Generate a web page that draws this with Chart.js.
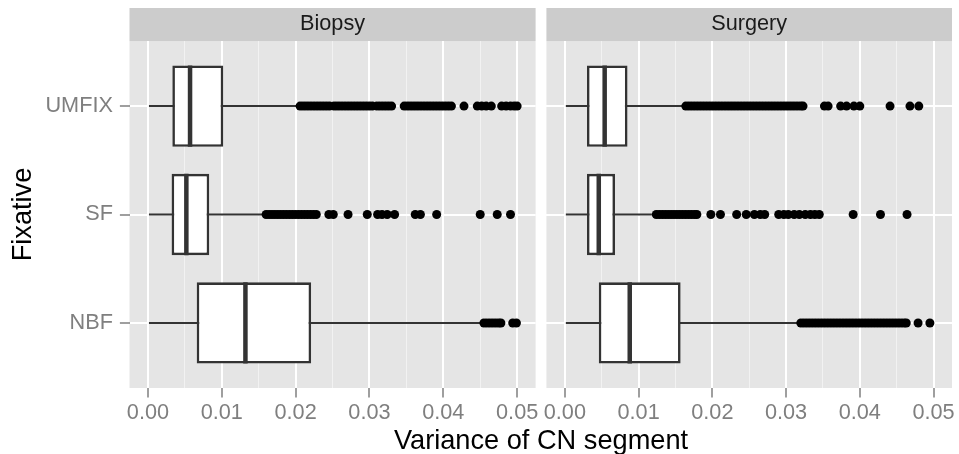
<!DOCTYPE html>
<html>
<head>
<meta charset="utf-8">
<title>Variance of CN segment by fixative</title>
<script src="https://cdn.jsdelivr.net/npm/chart.js@4.4.1/dist/chart.umd.min.js"></script>
<style>
  html, body { margin: 0; padding: 0; background: #ffffff; }
  #wrap { position: relative; width: 959px; height: 454px; overflow: hidden; }
  #biopsy-chart { position: absolute; left: 0; top: 0; }
  #surgery-chart { position: absolute; left: 541px; top: 0; }
  #x-title {
    position: absolute; left: 241px; width: 600px; top: 426px;
    text-align: center; white-space: nowrap;
    font-family: 'Liberation Sans', Arial, Helvetica, sans-serif;
    font-size: 27.2px; line-height: 27.2px; color: #000000;
  }
</style>
</head>
<body>
<div id="wrap">
  <canvas id="biopsy-chart" width="541" height="454"></canvas>
  <canvas id="surgery-chart" width="418" height="454"></canvas>
  <div id="x-title">Variance of CN segment</div>
</div>
<script>
// Fixative levels, bottom to top as in the original plot
const fixatives = ['NBF', 'SF', 'UMFIX'];
const panels = ['Biopsy', 'Surgery'];

// x axis range and ticks (same for both facets)
const xLimits = [-0.0025, 0.0525];
const yLimits = [0.4, 3.6];
const xMajorTicks = [0, 0.01, 0.02, 0.03, 0.04, 0.05];
const xMinorTicks = [0.005, 0.015, 0.025, 0.035, 0.045];

// Box statistics, one value per fixative (NBF, SF, UMFIX)
const biopsyLower = [0.0000, 0.0000, 0.0000];
const biopsyQ1 = [0.0066, 0.0032, 0.0033];
const biopsyMedian = [0.0132, 0.0052, 0.0057];
const biopsyQ3 = [0.0221, 0.0083, 0.0102];
const biopsyUpper = [0.0451, 0.0156, 0.0204];

const surgeryLower = [0.0000, 0.0000, 0.0000];
const surgeryQ1 = [0.0046, 0.0030, 0.0030];
const surgeryMedian = [0.0088, 0.0046, 0.0054];
const surgeryQ3 = [0.0157, 0.0068, 0.0085];
const surgeryUpper = [0.0316, 0.0118, 0.0160];

// Outliers
const biopsyOutliersNBF = [0.0455, 0.0459, 0.0463, 0.0467, 0.0471, 0.0475, 0.0478, 0.0494, 0.0499];
const biopsyOutliersSF = [0.0160, 0.0164, 0.0168, 0.0172, 0.0176, 0.0180, 0.0184, 0.0188, 0.0192,
  0.0196, 0.0200, 0.0204, 0.0208, 0.0212, 0.0216, 0.0220, 0.0224, 0.0228, 0.0245, 0.0251,
  0.0271, 0.0297, 0.0311, 0.0317, 0.0324, 0.0334, 0.0362, 0.0369, 0.0391, 0.0450, 0.0473, 0.0491];
const biopsyOutliersUMFIX = [0.0206, 0.0210, 0.0214, 0.0218, 0.0222, 0.0226, 0.0230, 0.0234,
  0.0238, 0.0242, 0.0246, 0.0252, 0.0256, 0.0260, 0.0264, 0.0268, 0.0272, 0.0276, 0.0280,
  0.0284, 0.0288, 0.0292, 0.0296, 0.0300, 0.0304, 0.0310, 0.0314, 0.0318, 0.0322, 0.0326,
  0.0330, 0.0347, 0.0351, 0.0355, 0.0359, 0.0363, 0.0367, 0.0371, 0.0375, 0.0379, 0.0383,
  0.0387, 0.0391, 0.0395, 0.0399, 0.0403, 0.0407, 0.0411, 0.0428, 0.0446, 0.0452, 0.0458,
  0.0465, 0.0479, 0.0485, 0.0491, 0.0496, 0.0500];

const surgeryOutliersNBF = [0.0320, 0.0324, 0.0328, 0.0332, 0.0336, 0.0340, 0.0344, 0.0348,
  0.0352, 0.0356, 0.0360, 0.0364, 0.0368, 0.0372, 0.0376, 0.0380, 0.0384, 0.0388, 0.0392,
  0.0396, 0.0400, 0.0404, 0.0408, 0.0412, 0.0416, 0.0420, 0.0424, 0.0428, 0.0432, 0.0436,
  0.0440, 0.0444, 0.0448, 0.0452, 0.0456, 0.0460, 0.0463, 0.0479, 0.0495];
const surgeryOutliersSF = [0.0124, 0.0128, 0.0132, 0.0136, 0.0140, 0.0144, 0.0148, 0.0152,
  0.0156, 0.0160, 0.0164, 0.0168, 0.0172, 0.0176, 0.0179, 0.0198, 0.0211, 0.0233, 0.0246,
  0.0257, 0.0265, 0.0271, 0.0290, 0.0297, 0.0303, 0.0311, 0.0318, 0.0326, 0.0333, 0.0339,
  0.0345, 0.0391, 0.0428, 0.0464];
const surgeryOutliersUMFIX = [0.0164, 0.0168, 0.0172, 0.0176, 0.0180, 0.0184, 0.0188, 0.0192,
  0.0196, 0.0200, 0.0204, 0.0208, 0.0212, 0.0216, 0.0220, 0.0224, 0.0228, 0.0232, 0.0236,
  0.0240, 0.0244, 0.0248, 0.0252, 0.0256, 0.0260, 0.0264, 0.0268, 0.0272, 0.0276, 0.0280,
  0.0284, 0.0288, 0.0292, 0.0296, 0.0300, 0.0304, 0.0308, 0.0312, 0.0316, 0.0320, 0.0323,
  0.0352, 0.0357, 0.0374, 0.0382, 0.0392, 0.0400, 0.0441, 0.0468, 0.0480];

document.addEventListener('DOMContentLoaded', () => {
  Chart.defaults.font.family = "'Liberation Sans', Arial, Helvetica, sans-serif";

  const axisGrey = '#7f7f7f';
  const boxLine = '#333333';
  const boxShare = 0.75; // box height as share of the category spacing
  const xTicks = xMajorTicks.concat(xMinorTicks).sort((a, b) => a - b);
  const isMajor = (v) => xMajorTicks.includes(v);

  // grey panel and strip behind everything
  const panelBackground = {
    id: 'panelBackground',
    beforeDraw(chart) {
      const { ctx, chartArea } = chart;
      ctx.save();
      ctx.fillStyle = '#e5e5e5';
      ctx.fillRect(chartArea.left, chartArea.top, chartArea.width, chartArea.height);
      const strip = chart.titleBlock;
      if (strip) {
        ctx.fillStyle = '#cccccc';
        ctx.fillRect(strip.left, strip.top, strip.width, strip.height);
      }
      ctx.restore();
    },
  };

  // half the box height in pixels, taken from the y scale
  const halfBox = (ctx) => {
    const y = ctx.chart.scales.y;
    return Math.abs(y.getPixelForValue(1) - y.getPixelForValue(2)) * boxShare / 2;
  };

  // Build whisker, box, median and outlier datasets for one facet
  const buildDatasets = (lower, q1, median, q3, upper, outliers) => {
    const whiskers = fixatives.map((f, i) => ({ y: i + 1, x: [lower[i], upper[i]] }));
    const boxes = fixatives.map((f, i) => ({ y: i + 1, x: [q1[i], q3[i]] }));
    const medians = fixatives.map((f, i) => ({ y: i + 1, x: median[i] }));
    const points = [];
    outliers.forEach((vals, i) => vals.forEach(v => points.push({ x: v, y: i + 1 })));

    return [
      { type: 'bar', indexAxis: 'y', grouped: false, data: whiskers, barThickness: 2,
        backgroundColor: boxLine, borderWidth: 0, inflateAmount: 0, order: 4 },
      { type: 'bar', indexAxis: 'y', grouped: false, data: boxes,
        categoryPercentage: boxShare, barPercentage: 1,
        backgroundColor: '#ffffff', borderColor: boxLine, borderWidth: 2.6,
        borderSkipped: false, inflateAmount: 0, order: 3 },
      { type: 'scatter', data: medians, pointStyle: 'line', rotation: 90,
        pointRadius: halfBox, pointHoverRadius: halfBox,
        borderColor: boxLine, borderWidth: 4.5, order: 2 },
      { type: 'scatter', data: points, backgroundColor: '#000000', borderWidth: 0,
        pointRadius: 4.5, pointHoverRadius: 4.5, order: 1 },
    ];
  };

  const makePanel = (canvasId, stripLabel, datasets, showYAxis, padRight) => {
    return new Chart(document.getElementById(canvasId), {
      type: 'bar',
      data: { datasets },
      plugins: [panelBackground],
      options: {
        responsive: false,
        animation: false,
        events: [],
        indexAxis: 'y',
        layout: { padding: { top: 8, right: padRight, bottom: 0, left: 0 } },
        plugins: {
          legend: { display: false },
          tooltip: { enabled: false },
          title: {
            display: true, text: stripLabel, fullSize: false, color: '#1a1a1a',
            font: { size: 21.7, weight: 'normal' }, padding: { top: 3.5, bottom: 3.5 },
          },
        },
        scales: {
          x: {
            type: 'linear', min: xLimits[0], max: xLimits[1], bounds: 'data',
            offset: false, stacked: false,
            afterBuildTicks: (axis) => { axis.ticks = xTicks.map(v => ({ value: v })); },
            afterFit: (axis) => { axis.height = 66; },
            ticks: {
              autoSkip: false, maxRotation: 0, padding: 2.5, color: axisGrey,
              font: { size: 21.7 },
              callback: (value) => (isMajor(value) ? value.toFixed(2) : ''),
            },
            grid: {
              offset: false,
              color: (ctx) => (isMajor(ctx.tick.value) ? '#ffffff' : '#f2f2f2'),
              lineWidth: (ctx) => (isMajor(ctx.tick.value) ? 2 : 1),
              tickColor: (ctx) => (isMajor(ctx.tick.value) ? axisGrey : 'rgba(0,0,0,0)'),
              tickLength: 9.6, tickWidth: 1.5,
            },
            border: { display: false },
          },
          y: {
            type: 'linear', min: yLimits[0], max: yLimits[1], bounds: 'data',
            offset: false,
            afterBuildTicks: (axis) => { axis.ticks = fixatives.map((f, i) => ({ value: i + 1 })); },
            afterFit: (axis) => { axis.width = showYAxis ? 129.5 : 4; },
            ticks: {
              display: showYAxis, autoSkip: false, padding: 7, color: axisGrey,
              font: { size: 21.7 },
              callback: (value) => fixatives[value - 1],
            },
            grid: {
              offset: false, color: '#ffffff', lineWidth: 2,
              drawTicks: showYAxis, tickColor: axisGrey, tickLength: 9.6, tickWidth: 1.5,
            },
            border: { display: false },
            title: {
              display: showYAxis, text: 'Fixative', color: '#000000',
              font: { size: 27.2 }, padding: { top: 7.5, bottom: 0 },
            },
          },
        },
      },
    });
  };

  makePanel('biopsy-chart', panels[0],
    buildDatasets(biopsyLower, biopsyQ1, biopsyMedian, biopsyQ3, biopsyUpper,
      [biopsyOutliersNBF, biopsyOutliersSF, biopsyOutliersUMFIX]), true, 4.5);

  makePanel('surgery-chart', panels[1],
    buildDatasets(surgeryLower, surgeryQ1, surgeryMedian, surgeryQ3, surgeryUpper,
      [surgeryOutliersNBF, surgeryOutliersSF, surgeryOutliersUMFIX]), false, 7);
});
</script>
</body>
</html>
